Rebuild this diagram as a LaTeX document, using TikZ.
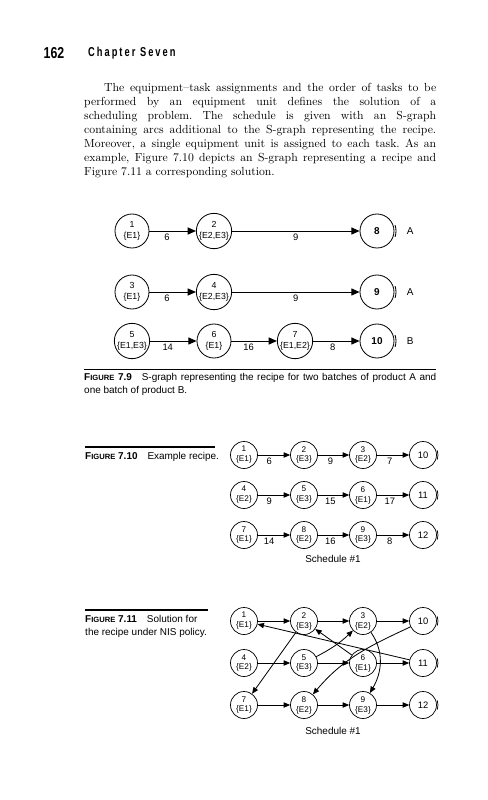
\documentclass[tikz,border=0pt]{standalone}
\usepackage{fontspec}
\setsansfont{Liberation Sans}
\usetikzlibrary{arrows.meta,positioning,calc}

\newcommand{\figlab}[1]{\textbf{F{\fontsize{6.5}{6.5}\selectfont IGURE} #1}}

\begin{document}
\begin{tikzpicture}[
    x=0.03cm, y=0.03cm,
    font=\sffamily,
]

\tikzset{
    task/.style = {circle, draw=black, line width=0.7pt, minimum size=1.02cm, inner sep=0pt,
                   align=center, font=\sffamily\fontsize{7.5}{9.5}\selectfont},
    product/.style = {task, font=\sffamily\bfseries\fontsize{8.5}{9.5}\selectfont},
    stask/.style = {circle, draw=black, line width=0.6pt, minimum size=0.81cm, inner sep=0pt,
                    align=center, font=\sffamily\fontsize{7}{8.5}\selectfont},
    sproduct/.style = {stask, font=\sffamily\fontsize{8}{9}\selectfont},
    conn/.style = {line width=0.8pt, -{Triangle[length=7pt, width=6pt]}},
    sconn/.style = {line width=0.7pt, -{Triangle[length=5.5pt, width=4.5pt]}},
    wt/.style = {font=\sffamily\fontsize{8}{9}\selectfont, below, inner sep=2pt},
    captext/.style = {anchor=north west, inner sep=0pt, font=\sffamily\fontsize{8.5}{11}\selectfont},
    caprule/.style = {line width=1.1pt},
}

\useasboundingbox (0,0) rectangle (488,-800);

% Running head
\node[font=\sffamily\bfseries\fontsize{13.5}{13.5}\selectfont] (pgno) at (54,-53) {\scalebox{0.78}[1]{162}};
\node[anchor=west, font=\sffamily\bfseries\fontsize{11}{11}\selectfont] (chap) at (84,-53)
    {\scalebox{0.72}[1]{\addfontfeatures{LetterSpace=22}Chapter Seven}};

% Body text
\node[anchor=north west, text width=10.56cm, align=justify, inner sep=0pt,
      font=\rmfamily\fontsize{10}{11.9}\selectfont\frenchspacing] (body) at (84,-83) {%
\hspace*{0.6cm}The equipment--task assignments and the order of tasks to be\linebreak
performed by an equipment unit defines the solution of a\linebreak
scheduling problem. The schedule is given with an S-graph\linebreak
containing arcs additional to the S-graph representing the recipe.\linebreak
Moreover, a single equipment unit is assigned to each task. As an\linebreak
example, Figure 7.10 depicts an S-graph representing a recipe and\linebreak
Figure 7.11 a corresponding solution.};

% =========== FIGURE 7.9 ===========
\node[task] (a1) at (132,-231) {1\\\{E1\}};
\node[task] (a2) at (214,-231) {2\\\{E2,E3\}};
\node[product] (a8) at (377,-231) {8};
\node[right=0.25cm of a8, font=\sffamily\fontsize{8.5}{9}\selectfont] (pa1) {A};

\node[task] (a3) at (132,-292) {3\\\{E1\}};
\node[task] (a4) at (214,-292) {4\\\{E2,E3\}};
\node[product] (a9) at (377,-292) {9};
\node[right=0.25cm of a9, font=\sffamily\fontsize{8.5}{9}\selectfont] (pa2) {A};

\node[task] (a5) at (132,-341) {5\\\{E1,E3\}};
\node[task] (a6) at (214,-341) {6\\\{E1\}};
\node[task] (a7) at (295,-341) {7\\\{E1,E2\}};
\node[product] (a10) at (377,-341) {10};
\node[right=0.25cm of a10, font=\sffamily\fontsize{8.5}{9}\selectfont] (pb) {B};

\draw[conn] (a1) -- node[wt, pos=0.38] {6} (a2);
\draw[conn] (a2) -- node[wt, pos=0.5] {9} (a8);
\draw[conn] (a3) -- node[wt, pos=0.38] {6} (a4);
\draw[conn] (a4) -- node[wt, pos=0.5] {9} (a9);
\draw[conn] (a5) -- node[wt, pos=0.38] {14} (a6);
\draw[conn] (a6) -- node[wt, pos=0.38] {16} (a7);
\draw[conn] (a7) -- node[wt, pos=0.42] {8} (a10);

\foreach \n in {a8,a9,a10}
    \draw[line width=0.7pt] ([shift={(-18:19)}]\n.center) arc[start angle=-18, end angle=18, radius=19];

\node[captext, text width=10.56cm, align=justify] (cap79) at (84,-373) {%
\figlab{7.9}\quad S-graph representing the recipe for two batches of product A and\linebreak
one batch of product B.};
\draw[caprule] ([yshift=3pt]cap79.north west) -- ([yshift=3pt]cap79.north east);

% =========== FIGURE 7.10 ===========
\node[captext] (cap710) at (85,-452) {\figlab{7.10}\quad Example recipe.};
\draw[caprule] (85,-447) -- (215,-447);

\node[stask] (r1) at (244,-455) {1\\\{E1\}};
\node[stask] (r2) at (304,-455) {2\\\{E3\}};
\node[stask] (r3) at (363,-455) {3\\\{E2\}};
\node[sproduct] (r10) at (423,-455) {10};

\node[stask] (r4) at (244,-495) {4\\\{E2\}};
\node[stask] (r5) at (304,-495) {5\\\{E3\}};
\node[stask] (r6) at (363,-495) {6\\\{E1\}};
\node[sproduct] (r11) at (423,-495) {11};

\node[stask] (r7) at (244,-535) {7\\\{E1\}};
\node[stask] (r8) at (304,-535) {8\\\{E2\}};
\node[stask] (r9) at (363,-535) {9\\\{E3\}};
\node[sproduct] (r12) at (423,-535) {12};

\draw[sconn] (r1) -- node[wt, pos=0.35] {6} (r2);
\draw[sconn] (r2) -- node[wt, pos=0.4] {9} (r3);
\draw[sconn] (r3) -- node[wt, pos=0.4] {7} (r10);
\draw[sconn] (r4) -- node[wt, pos=0.35] {9} (r5);
\draw[sconn] (r5) -- node[wt, pos=0.4] {15} (r6);
\draw[sconn] (r6) -- node[wt, pos=0.4] {17} (r11);
\draw[sconn] (r7) -- node[wt, pos=0.35] {14} (r8);
\draw[sconn] (r8) -- node[wt, pos=0.4] {16} (r9);
\draw[sconn] (r9) -- node[wt, pos=0.4] {8} (r12);

\foreach \n in {r10,r11,r12}
    \draw[line width=0.6pt] ([shift={(-18:15)}]\n.center) arc[start angle=-18, end angle=18, radius=15];

\node[font=\sffamily\fontsize{8.5}{9}\selectfont] (sch1) at (333,-559) {Schedule \#1};

% =========== FIGURE 7.11 ===========
\node[captext, align=left] (cap711) at (85,-615) {\figlab{7.11}\quad Solution for\\the recipe under NIS policy.};
\draw[caprule] (85,-610) -- (208,-610);

\node[stask] (s1) at (244,-621) {1\\\{E1\}};
\node[stask] (s2) at (304,-621) {2\\\{E3\}};
\node[stask] (s3) at (363,-621) {3\\\{E2\}};
\node[sproduct] (s10) at (423,-621) {10};

\node[stask] (s4) at (244,-663) {4\\\{E2\}};
\node[stask] (s5) at (304,-663) {5\\\{E3\}};
\node[stask] (s6) at (363,-663) {6\\\{E1\}};
\node[sproduct] (s11) at (423,-663) {11};

\node[stask] (s7) at (244,-705) {7\\\{E1\}};
\node[stask] (s8) at (304,-705) {8\\\{E2\}};
\node[stask] (s9) at (363,-705) {9\\\{E3\}};
\node[sproduct] (s12) at (423,-705) {12};

% recipe arcs
\draw[sconn] (s1) -- (s2);
\draw[sconn] (s2) -- (s3);
\draw[sconn] (s3) -- (s10);
\draw[sconn] (s4) -- (s5);
\draw[sconn] (s5) -- (s6);
\draw[sconn] (s6) -- (s11);
\draw[sconn] (s7) -- (s8);
\draw[sconn] (s8) -- (s9);
\draw[sconn] (s9) -- (s12);

% schedule arcs
\draw[sconn] (s2) -- (s7);
\draw[sconn] (s11) -- (s1);
\draw[sconn] (s6) -- (s2);
\draw[sconn] (s5) to[bend right=8] (s3);
\draw[sconn] (s10) to[out=205, in=50] (s8);
\draw[sconn] (s3) to[out=-55, in=60] (s9);

\foreach \n in {s10,s11,s12}
    \draw[line width=0.6pt] ([shift={(-18:15)}]\n.center) arc[start angle=-18, end angle=18, radius=15];

\node[font=\sffamily\fontsize{8.5}{9}\selectfont] (sch2) at (333,-731) {Schedule \#1};

\end{tikzpicture}
\end{document}
